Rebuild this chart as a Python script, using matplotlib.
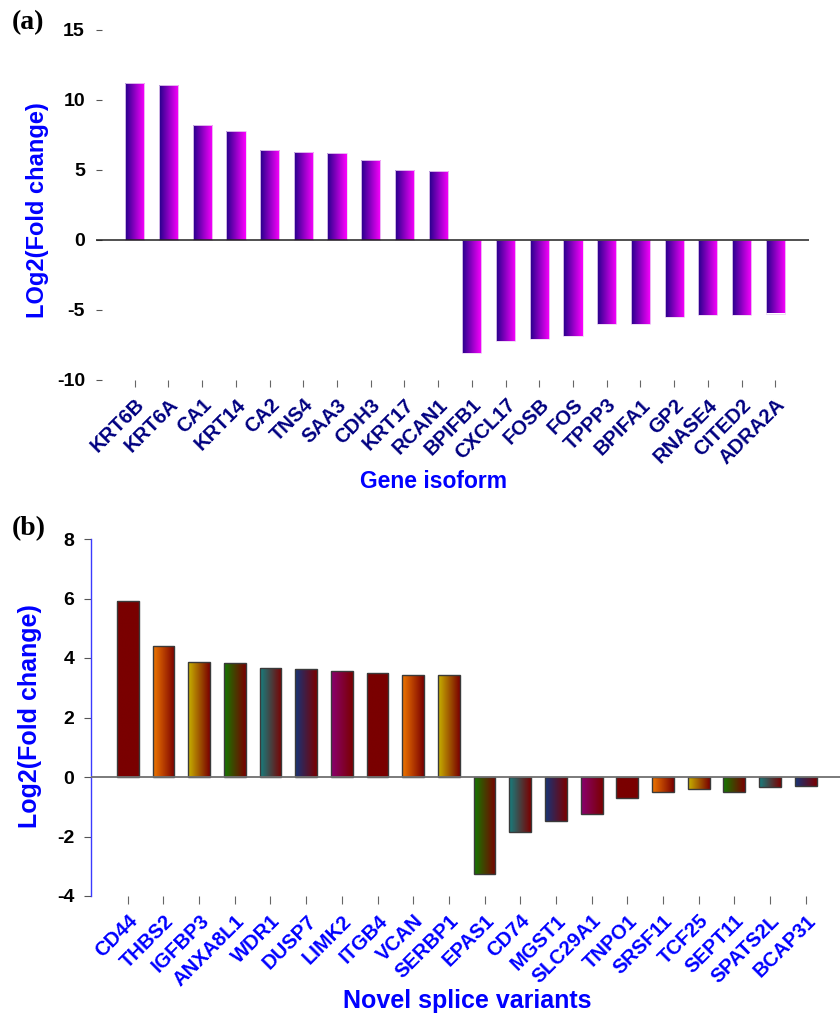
import numpy as np
import matplotlib
matplotlib.use("Agg")
import matplotlib.pyplot as plt
from matplotlib.colors import LinearSegmentedColormap

plt.rcParams['font.family'] = ['Liberation Sans', 'DejaVu Sans']
plt.rcParams['font.weight'] = 'bold'

# panel (a) data
genes_a = ['KRT6B', 'KRT6A', 'CA1', 'KRT14', 'CA2', 'TNS4', 'SAA3', 'CDH3', 'KRT17', 'RCAN1',
           'BPIFB1', 'CXCL17', 'FOSB', 'FOS', 'TPPP3', 'BPIFA1', 'GP2', 'RNASE4', 'CITED2', 'ADRA2A']
fc_a = [11.2, 11.1, 8.2, 7.8, 6.4, 6.3, 6.25, 5.75, 5.0, 4.9,
        -8.05, -7.2, -7.05, -6.85, -6.0, -6.0, -5.5, -5.35, -5.35, -5.25]
yticks_a = [-10, -5, 0, 5, 10, 15]

# panel (b) data
genes_b = ['CD44', 'THBS2', 'IGFBP3', 'ANXA8L1', 'WDR1', 'DUSP7', 'LIMK2', 'ITGB4', 'VCAN', 'SERBP1',
           'EPAS1', 'CD74', 'MGST1', 'SLC29A1', 'TNPO1', 'SRSF11', 'TCF25', 'SEPT11', 'SPATS2L', 'BCAP31']
fc_b = [5.92, 4.39, 3.88, 3.84, 3.68, 3.64, 3.55, 3.48, 3.44, 3.42,
        -3.25, -1.86, -1.49, -1.25, -0.69, -0.52, -0.40, -0.52, -0.35, -0.30]
yticks_b = [-4, -2, 0, 2, 4, 6, 8]

# gradient start colours, cycling for panel (b); all fade to maroon
cycle_b = ['#7a0000', '#f07800', '#c8b400', '#137a00', '#158080', '#15357a', '#8a0070']
MAROON = '#7a0000'
BLUE = '#0000ff'


def gradient_fill(ax, bars, left_cols, right_col):
    grad = np.linspace(0, 1, 256).reshape(1, -1)
    for bar, lc in zip(bars, left_cols):
        x0, y0 = bar.get_x(), bar.get_y()
        w, h = bar.get_width(), bar.get_height()
        cmap = LinearSegmentedColormap.from_list('g', [lc, right_col])
        im = ax.imshow(grad, cmap=cmap, aspect='auto', interpolation='bilinear',
                       extent=(x0, x0 + w, min(y0, y0 + h), max(y0, y0 + h)), zorder=1)
        im.set_clip_path(bar)


fig = plt.figure(figsize=(8.4, 10.15), dpi=100)

# ---- panel (a)
ax1 = fig.add_axes([96 / 840, 1 - 380 / 1015, 713 / 840, 350 / 1015])
x = np.arange(len(genes_a))
bars = ax1.bar(x, fc_a, width=0.57, facecolor='none', edgecolor='#ecd4f4', linewidth=0.6, zorder=2)
gradient_fill(ax1, bars, ['#22008a'] * len(bars), '#ff00ff')
ax1.axhline(0, color='#202020', linewidth=1.1, zorder=3)
ax1.set_xlim(-1.15, 20.0)
ax1.set_ylim(-10, 15)
ax1.set_yticks(yticks_a)
ax1.set_yticklabels([str(t) for t in yticks_a], fontsize=14, fontweight='bold')
ax1.tick_params(axis='y', direction='in', length=4, color='#555555', pad=8)
ax1.set_xticks(x)
ax1.set_xticklabels(genes_a, rotation=45, ha='right', va='top', rotation_mode='anchor',
                    fontsize=14.5, fontweight='bold', color='#000080')
ax1.tick_params(axis='x', direction='out', length=5, color='#666666', pad=6)
for s in ax1.spines.values():
    s.set_visible(False)
ax1.set_xlabel('Gene isoform', fontsize=16.5, fontweight='bold', color=BLUE, va='center')
ax1.xaxis.set_label_coords(0.473, -0.289)
ax1.set_ylabel('LOg2(Fold change)', fontsize=17, fontweight='bold', color=BLUE, va='center')
ax1.yaxis.set_label_coords(-0.082, 0.486)

# ---- panel (b)
ax2 = fig.add_axes([91 / 840, 1 - 896 / 1015, 749 / 840, 357 / 1015])
x = np.arange(len(genes_b))
bars = ax2.bar(x, fc_b, width=0.61, facecolor='none', edgecolor='#3a3a3a', linewidth=1.0, zorder=2)
gradient_fill(ax2, bars, [cycle_b[i % len(cycle_b)] for i in range(len(bars))], MAROON)
ax2.axhline(0, color='#707070', linewidth=1.3, zorder=3)
ax2.set_xlim(-1.03, 19.96)
ax2.set_ylim(-4, 8)
ax2.set_yticks(yticks_b)
ax2.set_yticklabels([str(t) for t in yticks_b], fontsize=14, fontweight='bold')
ax2.tick_params(axis='y', direction='out', length=5, color='#555555', pad=7)
ax2.set_xticks(x)
ax2.set_xticklabels(genes_b, rotation=45, ha='right', va='top', rotation_mode='anchor',
                    fontsize=14.5, fontweight='bold', color=BLUE)
ax2.tick_params(axis='x', direction='out', length=6, color='#666666', pad=5)
for k in ['top', 'right', 'bottom']:
    ax2.spines[k].set_visible(False)
ax2.spines['left'].set_color('#3b3bff')
ax2.spines['left'].set_linewidth(1.0)
ax2.set_xlabel('Novel splice variants', fontsize=18, fontweight='bold', color=BLUE, va='center')
ax2.xaxis.set_label_coords(0.502, -0.293)
ax2.set_ylabel('Log2(Fold change)', fontsize=18, fontweight='bold', color=BLUE, va='center')
ax2.yaxis.set_label_coords(-0.081, 0.504)

# panel letters
fig.text(12 / 840, 1 - 23 / 1015, '(a)', fontsize=20, fontweight='bold',
         family='Liberation Serif', va='center', ha='left')
fig.text(12 / 840, 1 - 529 / 1015, '(b)', fontsize=20, fontweight='bold',
         family='Liberation Serif', va='center', ha='left')

fig.savefig('out.png', dpi=100)
